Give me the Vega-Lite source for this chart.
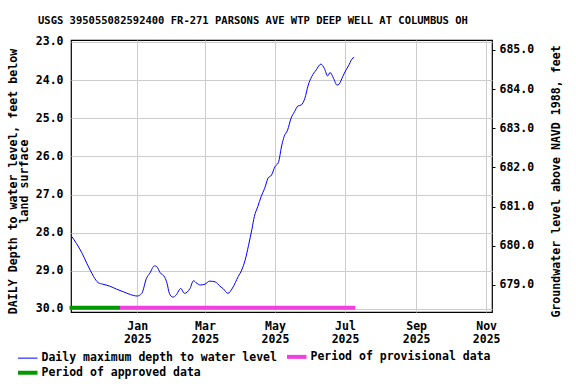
{
  "$schema": "https://vega.github.io/schema/vega-lite/v6.json",
  "width": 421,
  "height": 272,
  "autosize": {"type": "none"},
  "padding": {"left": 71, "top": 40, "right": 84, "bottom": 72},
  "background": "white",
  "config": {
    "font": "DejaVu Sans Mono",
    "view": {"stroke": "black", "strokeWidth": 1.2},
    "axis": {"labelFont": "DejaVu Sans Mono", "titleFont": "DejaVu Sans Mono", "labelFontWeight": "bold", "titleFontWeight": "bold", "labelColor": "black", "titleColor": "black", "labelFontSize": 11.5, "titleFontSize": 11.6, "domain": false, "gridColor": "#cccccc", "gridWidth": 1, "gridOpacity": 1, "labelOverlap": false, "labelBound": false, "labelFlush": false}
  },
  "title": {
    "text": "USGS 395055082592400 FR-271 PARSONS AVE WTP DEEP WELL AT COLUMBUS OH",
    "font": "DejaVu Sans Mono",
    "fontSize": 10.5,
    "fontWeight": "bold",
    "color": "black",
    "anchor": "start",
    "frame": "group",
    "dx": -33,
    "offset": 9
  },
  "datasets": {
    "levels": [
      {"date": "2024-11-05", "depth": 28.10},
      {"date": "2024-11-09", "depth": 28.28},
      {"date": "2024-11-14", "depth": 28.54},
      {"date": "2024-11-18", "depth": 28.80},
      {"date": "2024-11-21", "depth": 28.98},
      {"date": "2024-11-24", "depth": 29.15},
      {"date": "2024-11-28", "depth": 29.31},
      {"date": "2024-12-02", "depth": 29.35},
      {"date": "2024-12-08", "depth": 29.40},
      {"date": "2024-12-14", "depth": 29.48},
      {"date": "2024-12-20", "depth": 29.55},
      {"date": "2024-12-26", "depth": 29.62},
      {"date": "2025-01-01", "depth": 29.66},
      {"date": "2025-01-05", "depth": 29.59},
      {"date": "2025-01-09", "depth": 29.20},
      {"date": "2025-01-12", "depth": 29.06},
      {"date": "2025-01-16", "depth": 28.87},
      {"date": "2025-01-18", "depth": 28.89},
      {"date": "2025-01-21", "depth": 29.05},
      {"date": "2025-01-25", "depth": 29.17},
      {"date": "2025-01-27", "depth": 29.33},
      {"date": "2025-01-29", "depth": 29.59},
      {"date": "2025-02-01", "depth": 29.69},
      {"date": "2025-02-04", "depth": 29.63},
      {"date": "2025-02-08", "depth": 29.46},
      {"date": "2025-02-11", "depth": 29.59},
      {"date": "2025-02-16", "depth": 29.46},
      {"date": "2025-02-19", "depth": 29.26},
      {"date": "2025-02-22", "depth": 29.33},
      {"date": "2025-02-25", "depth": 29.37},
      {"date": "2025-03-01", "depth": 29.35},
      {"date": "2025-03-05", "depth": 29.27},
      {"date": "2025-03-10", "depth": 29.29},
      {"date": "2025-03-14", "depth": 29.40},
      {"date": "2025-03-17", "depth": 29.47},
      {"date": "2025-03-21", "depth": 29.59},
      {"date": "2025-03-25", "depth": 29.45},
      {"date": "2025-03-30", "depth": 29.15},
      {"date": "2025-04-02", "depth": 28.98},
      {"date": "2025-04-05", "depth": 28.72},
      {"date": "2025-04-08", "depth": 28.33},
      {"date": "2025-04-11", "depth": 27.90},
      {"date": "2025-04-13", "depth": 27.58},
      {"date": "2025-04-16", "depth": 27.32},
      {"date": "2025-04-19", "depth": 27.05},
      {"date": "2025-04-22", "depth": 26.84},
      {"date": "2025-04-25", "depth": 26.57},
      {"date": "2025-04-28", "depth": 26.49},
      {"date": "2025-05-01", "depth": 26.27},
      {"date": "2025-05-04", "depth": 26.16},
      {"date": "2025-05-07", "depth": 25.70},
      {"date": "2025-05-09", "depth": 25.48},
      {"date": "2025-05-12", "depth": 25.31},
      {"date": "2025-05-15", "depth": 25.00},
      {"date": "2025-05-18", "depth": 24.83},
      {"date": "2025-05-21", "depth": 24.68},
      {"date": "2025-05-24", "depth": 24.65},
      {"date": "2025-05-27", "depth": 24.48},
      {"date": "2025-05-30", "depth": 24.13},
      {"date": "2025-06-02", "depth": 23.91},
      {"date": "2025-06-06", "depth": 23.73},
      {"date": "2025-06-10", "depth": 23.58},
      {"date": "2025-06-13", "depth": 23.69},
      {"date": "2025-06-16", "depth": 23.89},
      {"date": "2025-06-18", "depth": 23.80},
      {"date": "2025-06-21", "depth": 23.95},
      {"date": "2025-06-24", "depth": 24.13},
      {"date": "2025-06-26", "depth": 24.10},
      {"date": "2025-06-29", "depth": 23.91},
      {"date": "2025-07-02", "depth": 23.73},
      {"date": "2025-07-04", "depth": 23.63},
      {"date": "2025-07-07", "depth": 23.45},
      {"date": "2025-07-09", "depth": 23.40}
    ],
    "periods": [
      {"series": "Period of approved data", "start": "2024-11-03", "end": "2024-12-17"},
      {"series": "Period of provisional data", "start": "2024-12-17", "end": "2025-07-10"}
    ],
    "elev": [
      {"elevation": 679.0},
      {"elevation": 685.0}
    ]
  },
  "layer": [
    {
      "layer": [
        {
          "data": {"name": "levels"},
          "transform": [{"calculate": "'Daily maximum depth to water level'", "as": "series"}],
          "mark": {"type": "line", "strokeWidth": 1, "interpolate": "monotone"},
          "encoding": {
            "x": {
              "field": "date", "type": "temporal",
              "scale": {"type": "utc", "domain": [1730704320000, 1762395840000]},
              "axis": {
                "title": null,
                "values": [1735689600000, 1740787200000, 1746057600000, 1751328000000, 1756684800000, 1761955200000],
                "labelExpr": "[utcFormat(datum.value, '%b'), utcFormat(datum.value, '%Y')]",
                "ticks": false,
                "labelPadding": 8,
                "labelLineHeight": 13,
                "grid": true
              }
            },
            "y": {
              "field": "depth", "type": "quantitative",
              "scale": {"domain": [22.948, 30.079], "reverse": true, "nice": false, "zero": false},
              "axis": {
                "title": ["DAILY Depth to water level, feet below", "land surface"],
                "titleLineHeight": 11,
                "titlePadding": 5.5,
                "titleY": 141,
                "values": [23, 24, 25, 26, 27, 28, 29, 30],
                "format": ".1f",
                "ticks": false,
                "labelPadding": 8,
                "grid": true
              }
            },
            "color": {
              "field": "series", "type": "nominal",
              "scale": {
                "domain": ["Daily maximum depth to water level", "Period of provisional data", "Period of approved data"],
                "range": ["#0000ff", "#f040e0", "#009900"]
              },
              "legend": {
                "title": null,
                "orient": "none",
                "legendX": -49,
                "legendY": 311,
                "direction": "horizontal",
                "columns": 2,
                "symbolType": "stroke",
                "symbolSize": 380,
                "symbolStrokeWidth": 4,
                "labelFont": "DejaVu Sans Mono",
                "labelFontSize": 11.5,
                "labelFontWeight": "bold",
                "labelColor": "black",
                "labelOffset": 8,
                "columnPadding": 2,
                "rowPadding": -1,
                "labelLimit": 400,
                "encode": {
                  "symbols": {"update": {"strokeWidth": {"signal": "datum.value === 'Daily maximum depth to water level' ? 1 : 4"}}}
                }
              }
            }
          }
        },
        {
          "data": {"name": "periods"},
          "mark": {"type": "rule", "strokeWidth": 4, "strokeCap": "butt"},
          "encoding": {
            "x": {"field": "start", "type": "temporal"},
            "x2": {"field": "end"},
            "y": {
              "datum": 29.97, "type": "quantitative",
              "scale": {"domain": [22.948, 30.079], "reverse": true, "nice": false, "zero": false},
              "axis": {
                "title": ["DAILY Depth to water level, feet below", "land surface"],
                "titleLineHeight": 11,
                "titlePadding": 5.5,
                "titleY": 141,
                "values": [23, 24, 25, 26, 27, 28, 29, 30],
                "format": ".1f",
                "ticks": false,
                "labelPadding": 8,
                "grid": true
              }
            },
            "color": {"field": "series", "type": "nominal"}
          }
        }
      ]
    },
    {
      "data": {"name": "elev"},
      "mark": {"type": "point", "opacity": 0},
      "encoding": {
        "y": {
          "field": "elevation", "type": "quantitative",
          "scale": {"domain": [678.31, 685.255], "nice": false, "zero": false},
          "axis": {
            "orient": "right",
            "title": "Groundwater level above NAVD 1988, feet",
            "titleAngle": 270,
            "titlePadding": 28,
            "titleY": 141,
            "values": [679, 680, 681, 682, 683, 684, 685],
            "format": ".1f",
            "ticks": true,
            "tickSize": 3,
            "tickColor": "black",
            "labelPadding": 4,
            "grid": false
          }
        }
      }
    }
  ],
  "resolve": {"scale": {"y": "independent"}, "axis": {"y": "independent"}}
}
